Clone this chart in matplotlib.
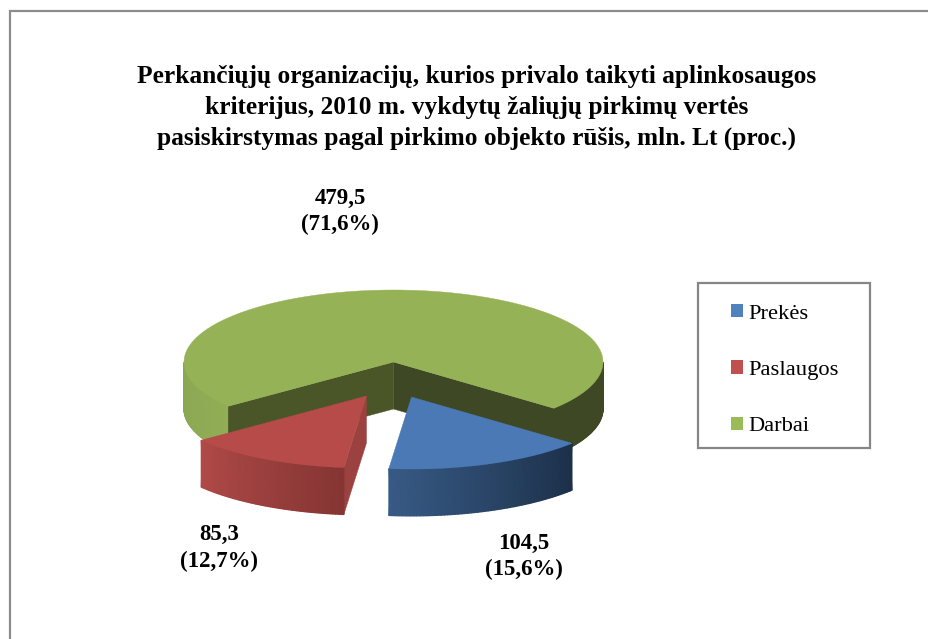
import numpy as np
import matplotlib
matplotlib.use("Agg")
import matplotlib.pyplot as plt
from matplotlib.colors import LinearSegmentedColormap
from matplotlib.patches import Patch

# Data
categories = ["Prekės", "Paslaugos", "Darbai"]
values = [104.5, 85.3, 479.5]
value_labels = ["104,5\n(15,6%)", "85,3\n(12,7%)", "479,5\n(71,6%)"]
title = ("Perkančiųjų organizacijų, kurios privalo taikyti aplinkosaugos\n"
         "kriterijus, 2010 m. vykdytų žaliųjų pirkimų vertės\n"
         "pasiskirstymas pagal pirkimo objekto rūšis, mln. Lt (proc.)")

legend_colors = ["#4f81bd", "#c0504d", "#9bbb59"]
top_colors = ["#4a79b5", "#b64b49", "#96b256"]

plt.rcParams["font.family"] = ["Liberation Serif", "DejaVu Serif"]

fig = plt.figure(figsize=(9.29, 6.39), dpi=100)
ax = fig.add_axes([0, 0, 1, 1])
ax.set_xlim(0, 929)
ax.set_ylim(639, 0)
ax.axis("off")

# Page border, only left and top show
ax.plot([10, 10, 929], [639, 10.5, 10.5], color="#8c8c8c", lw=1.6, solid_joinstyle="miter")

# Pie geometry in pixels
cx, cy = 393.5, 362
rx, ry = 209.5, 72
depth = 47
start = -40
offsets = [(18, 35), (-27, 34), (0, 0)]

# Slice angles come from the values, clockwise from the start angle
shares = np.array(values) / sum(values) * 360
ends = start - np.cumsum(shares)
starts = np.r_[start, ends[:-1]]


def rim(a1, a2, dx=0, dy=0, n=120):
    t = np.radians(np.linspace(a1, a2, n))
    return cx + dx + rx * np.cos(t), cy + dy - ry * np.sin(t)


def top(i, color, z):
    dx, dy = offsets[i]
    x, y = rim(starts[i], ends[i], dx, dy)
    ax.fill(np.r_[cx + dx, x], np.r_[cy + dy, y], color=color, lw=0.3, zorder=z)


def wall(a1, a2, dx, dy, c1, c2, z, n=60):
    # outer wall, gouraud mesh gives the smooth gradient
    x, y = rim(a1, a2, dx, dy, n)
    X = np.vstack([x, x])
    Y = np.vstack([y, y + depth])
    C = np.tile(np.linspace(0, 1, n), (2, 1))
    cmap = LinearSegmentedColormap.from_list("wall", [c1, c2])
    ax.pcolormesh(X, Y, C, cmap=cmap, shading="gouraud", zorder=z)


def cut(a, dx, dy, color, z):
    x, y = rim(a, a, dx, dy, 1)
    px, py = cx + dx, cy + dy
    ax.fill([px, x[0], x[0], px], [py, y[0], y[0] + depth, py + depth],
            color=color, lw=0.3, zorder=z)


# Darbai
wall(starts[0], 0, 0, 0, "#3f4824", "#3f4824", 1)
wall(180, starts[2] + 360, 0, 0, "#8aa652", "#91ae56", 1)
cut(start, 0, 0, "#3f4824", 2)
cut(starts[2] + 360, 0, 0, "#4a5628", 2)
top(2, top_colors[2], 3)

# Paslaugos
cut(starts[1], *offsets[1], "#9b4240", 4)
wall(ends[1], starts[1], *offsets[1], "#b04a48", "#853533", 5)
top(1, top_colors[1], 6)

# Prekės
wall(ends[0], starts[0], *offsets[0], "#375a85", "#1c3049", 7)
top(0, top_colors[0], 8)

# Title and labels
ax.text(477, 107.5, title, ha="center", va="center", fontsize=18.3, fontweight="bold",
        linespacing=1.44, color="black")
label_pos = [(524, 556.5), (219, 548), (340, 211.5)]
for txt, (lx, ly) in zip(value_labels, label_pos):
    ax.text(lx, ly, txt, ha="center", va="center", fontsize=16.5, fontweight="bold",
            linespacing=1.36, color="black")

# Legend box
ax.fill([698, 870.5, 870.5, 698], [282.5, 282.5, 448, 448], facecolor="white",
        edgecolor="#868686", lw=1.6, zorder=9)
handles = [Patch(facecolor=c, edgecolor="none") for c in legend_colors]
leg = ax.legend(handles, categories, loc="upper left", bbox_to_anchor=(731 / 929, 1 - 304 / 639),
                frameon=False, fontsize=16.2, handlelength=0.53, handleheight=0.53,
                handletextpad=0.25, labelspacing=1.63, borderpad=0, borderaxespad=0)
leg.set_zorder(10)

fig.savefig("out.png", dpi=100)
